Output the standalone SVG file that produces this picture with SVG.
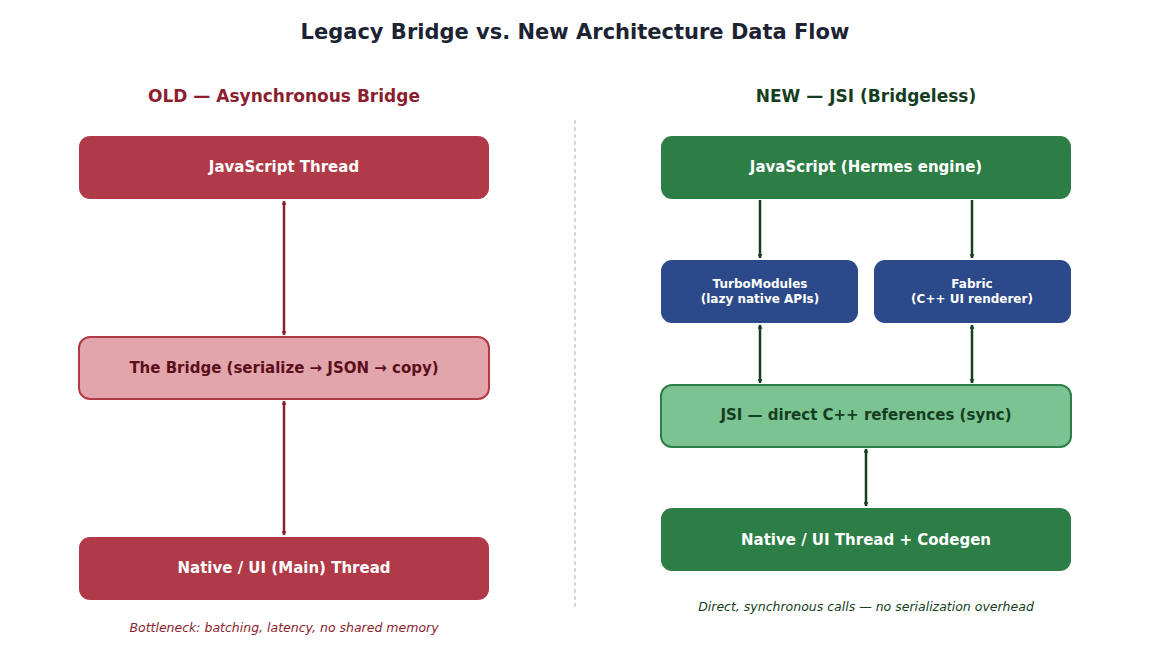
<svg xmlns="http://www.w3.org/2000/svg" width="1150" height="660" viewBox="0 0 1150 660">
<style>
text{font-family:"DejaVu Sans",sans-serif;font-weight:bold;text-anchor:middle;dominant-baseline:central}
.red{fill:#b03a48}
.pink{fill:#e2a5ab;stroke:#b03a48;stroke-width:2}
.green{fill:#2d7d46}
.lg{fill:#7bc491;stroke:#2d7d46;stroke-width:2}
.blue{fill:#2c4a8a}
.w{fill:#fff;font-size:15px}
.ws{fill:#fff;font-size:12px}
.rl{stroke:#8b1e2f;stroke-width:2.5;fill:none}
.gl{stroke:#143d22;stroke-width:2.5;fill:none}
</style>
<defs>
<marker id="ar" viewBox="0 0 10 10" refX="9" refY="5" markerWidth="5" markerHeight="5" orient="auto-start-reverse" markerUnits="userSpaceOnUse"><path d="M1,1 L9,5 L1,9" fill="none" stroke="#8b1e2f" stroke-width="2"/></marker>
<marker id="ag" viewBox="0 0 10 10" refX="9" refY="5" markerWidth="5" markerHeight="5" orient="auto-start-reverse" markerUnits="userSpaceOnUse"><path d="M1,1 L9,5 L1,9" fill="none" stroke="#143d22" stroke-width="2"/></marker>
</defs>
<rect width="1150" height="660" fill="#fff"/>
<text x="575" y="32" font-size="21" fill="#1c2333">Legacy Bridge vs. New Architecture Data Flow</text>
<text x="284" y="96" font-size="17" fill="#8b1e2f">OLD  —  Asynchronous Bridge</text>
<text x="866" y="96" font-size="17" fill="#143d22">NEW  —  JSI (Bridgeless)</text>
<line x1="575" y1="120" x2="575" y2="607" stroke="#cccccc" stroke-width="1.5" stroke-dasharray="4,3"/>
<g id="connectors">
<line class="rl" x1="284" y1="201" x2="284" y2="335" marker-start="url(#ar)" marker-end="url(#ar)" style="marker-start:url(#ar)"/>
<line class="rl" x1="284" y1="401" x2="284" y2="535" marker-start="url(#ar)" marker-end="url(#ar)"/>
<line class="gl" x1="760" y1="200" x2="760" y2="258" marker-end="url(#ag)"/>
<line class="gl" x1="972" y1="200" x2="972" y2="258" marker-end="url(#ag)"/>
<line class="gl" x1="760" y1="325" x2="760" y2="383" marker-start="url(#ag)" marker-end="url(#ag)"/>
<line class="gl" x1="972" y1="325" x2="972" y2="383" marker-start="url(#ag)" marker-end="url(#ag)"/>
<line class="gl" x1="866" y1="449" x2="866" y2="506" marker-start="url(#ag)" marker-end="url(#ag)"/>
</g>
<g id="js-thread"><rect class="red" x="79" y="136" width="410" height="63" rx="11"/><text class="w" x="284" y="167">JavaScript Thread</text></g>
<g id="bridge"><rect class="pink" x="79" y="337" width="410" height="62" rx="11"/><text x="284" y="368" font-size="15" fill="#5a0f1b">The Bridge  (serialize → JSON → copy)</text></g>
<g id="native-old"><rect class="red" x="79" y="537" width="410" height="63" rx="11"/><text class="w" x="284" y="568">Native / UI (Main) Thread</text></g>
<text x="284" y="627" font-size="12.5" fill="#8b1e2f" style="font-weight:normal;font-style:italic">Bottleneck: batching, latency, no shared memory</text>
<g id="js-hermes"><rect class="green" x="661" y="136" width="410" height="63" rx="11"/><text class="w" x="866" y="167">JavaScript (Hermes engine)</text></g>
<g id="turbo"><rect class="blue" x="661" y="260" width="197" height="63" rx="11"/><text class="ws" x="760" y="284">TurboModules</text><text class="ws" x="760" y="299">(lazy native APIs)</text></g>
<g id="fabric"><rect class="blue" x="874" y="260" width="197" height="63" rx="11"/><text class="ws" x="972" y="284">Fabric</text><text class="ws" x="972" y="299">(C++ UI renderer)</text></g>
<g id="jsi"><rect class="lg" x="661" y="385" width="410" height="62" rx="11"/><text x="866" y="415" font-size="15" fill="#143d22">JSI  —  direct C++ references (sync)</text></g>
<g id="native-new"><rect class="green" x="661" y="508" width="410" height="63" rx="11"/><text class="w" x="866" y="540">Native / UI Thread  +  Codegen</text></g>
<text x="866" y="606" font-size="12.5" fill="#143d22" style="font-weight:normal;font-style:italic">Direct, synchronous calls — no serialization overhead</text>
</svg>
